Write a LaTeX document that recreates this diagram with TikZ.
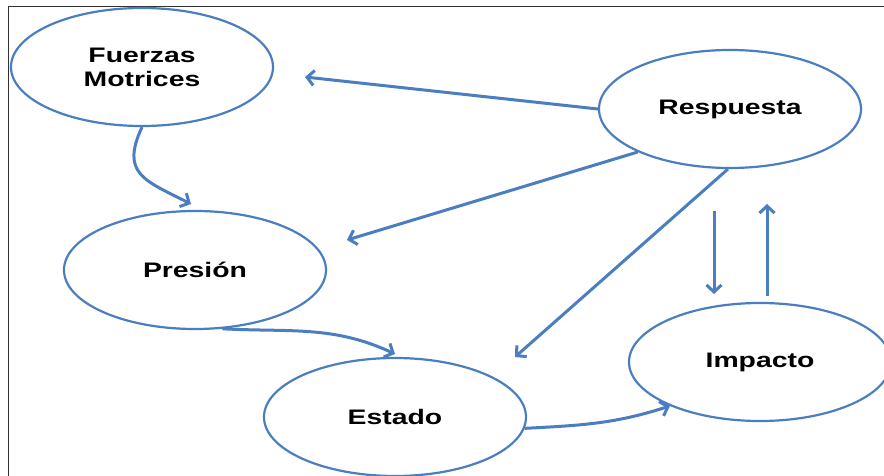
\documentclass[tikz,border=0pt]{standalone}
\usepackage{fontspec}
\usetikzlibrary{shapes.geometric,arrows.meta}
\newfontfamily\lblfont[FakeStretch=1.35]{Liberation Sans}
\definecolor{ovalblue}{RGB}{74,126,193}
\definecolor{framegray}{RGB}{50,50,50}
\tikzset{
  oval/.style={ellipse, draw=ovalblue, line width=2.2pt, fill=white,
    minimum width=262pt, minimum height=118pt, inner sep=0pt,
    align=center, font=\lblfont\bfseries\fontsize{21}{24}\selectfont},
  link/.style={draw=ovalblue, line width=3pt,
    -{Straight Barb[length=7pt,width=15pt,line width=3pt]}},
}
\begin{document}
\begin{tikzpicture}[x=1pt,y=-1pt]
  \clip (0,0) rectangle (884,476);
  \fill[white] (0,0) rectangle (884,476);
  % outer frame
  \draw[framegray, line width=1.8pt] (8.5,480) -- (8.5,6.5) -- (890,6.5);

  % the five stages
  \node[oval] (fm)  at (142,67)  {Fuerzas\\Motrices};
  \node[oval] (res) at (730,109) {Respuesta};
  \node[oval] (pre) at (195,270) {Presión};
  \node[oval] (est) at (395,417) {Estado};
  \node[oval] (imp) at (760,362) {Impacto};

  % free ends of the arrows
  \coordinate (tfm)  at (305,77);
  \coordinate (tpre) at (347,240);
  \coordinate (test) at (515,357);
  \coordinate (dtop) at (714,211);
  \coordinate (dbot) at (714,294);
  \coordinate (ubot) at (767,296);
  \coordinate (utop) at (767,204);
  \coordinate (cpre) at (191,204);
  \coordinate (cest) at (395,354);

  % responses
  \draw[link] (res.west) -- (tfm);
  \draw[link] (res.205) -- (tpre);
  \draw[link] (res.268) -- (test);
  \draw[link] (dtop) -- (dbot);
  \draw[link] (ubot) -- (utop);

  % causal chain
  \draw[link] (fm.south) to[out=245,in=153,looseness=1.45] (cpre);
  \draw[link] (pre.-65) to[out=-3,in=155] (cest);
  \draw[link] (est.-5) to[out=3,in=198] (imp.206);
\end{tikzpicture}
\end{document}
